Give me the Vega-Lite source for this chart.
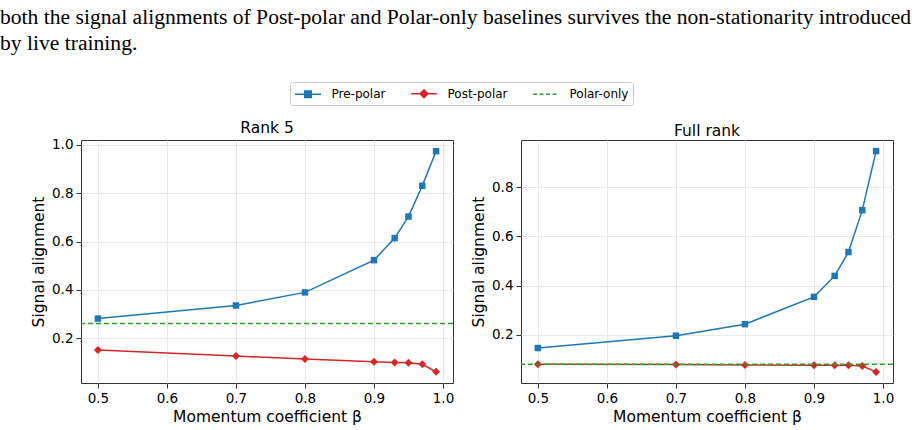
{
  "$schema": "https://vega.github.io/schema/vega-lite/v6.json",
  "padding": {"left": 0, "top": 6, "right": 0, "bottom": 2},
  "background": "white",
  "title": {
    "text": ["both the signal alignments of Post-polar and Polar-only baselines survives the non-stationarity introduced", "by live training."],
    "anchor": "start",
    "frame": "bounds",
    "font": "Liberation Serif",
    "fontSize": 21.6,
    "fontWeight": "normal",
    "lineHeight": 26,
    "color": "#000",
    "offset": 27,
    "dx": -31
  },
  "datasets": {
    "d": [
      {"panel": "Rank 5", "series": "Pre-polar", "beta": 0.5, "value": 0.282},
      {"panel": "Rank 5", "series": "Pre-polar", "beta": 0.7, "value": 0.336},
      {"panel": "Rank 5", "series": "Pre-polar", "beta": 0.8, "value": 0.390},
      {"panel": "Rank 5", "series": "Pre-polar", "beta": 0.9, "value": 0.523},
      {"panel": "Rank 5", "series": "Pre-polar", "beta": 0.93, "value": 0.614},
      {"panel": "Rank 5", "series": "Pre-polar", "beta": 0.95, "value": 0.703},
      {"panel": "Rank 5", "series": "Pre-polar", "beta": 0.97, "value": 0.830},
      {"panel": "Rank 5", "series": "Pre-polar", "beta": 0.99, "value": 0.973},
      {"panel": "Rank 5", "series": "Post-polar", "beta": 0.5, "value": 0.152},
      {"panel": "Rank 5", "series": "Post-polar", "beta": 0.7, "value": 0.127},
      {"panel": "Rank 5", "series": "Post-polar", "beta": 0.8, "value": 0.115},
      {"panel": "Rank 5", "series": "Post-polar", "beta": 0.9, "value": 0.104},
      {"panel": "Rank 5", "series": "Post-polar", "beta": 0.93, "value": 0.101},
      {"panel": "Rank 5", "series": "Post-polar", "beta": 0.95, "value": 0.100},
      {"panel": "Rank 5", "series": "Post-polar", "beta": 0.97, "value": 0.093},
      {"panel": "Rank 5", "series": "Post-polar", "beta": 0.99, "value": 0.062},
      {"panel": "Rank 5", "series": "Polar-only", "value": 0.262},
      {"panel": "Full rank", "series": "Pre-polar", "beta": 0.5, "value": 0.146},
      {"panel": "Full rank", "series": "Pre-polar", "beta": 0.7, "value": 0.196},
      {"panel": "Full rank", "series": "Pre-polar", "beta": 0.8, "value": 0.243},
      {"panel": "Full rank", "series": "Pre-polar", "beta": 0.9, "value": 0.354},
      {"panel": "Full rank", "series": "Pre-polar", "beta": 0.93, "value": 0.439},
      {"panel": "Full rank", "series": "Pre-polar", "beta": 0.95, "value": 0.536},
      {"panel": "Full rank", "series": "Pre-polar", "beta": 0.97, "value": 0.706},
      {"panel": "Full rank", "series": "Pre-polar", "beta": 0.99, "value": 0.946},
      {"panel": "Full rank", "series": "Post-polar", "beta": 0.5, "value": 0.080},
      {"panel": "Full rank", "series": "Post-polar", "beta": 0.7, "value": 0.079},
      {"panel": "Full rank", "series": "Post-polar", "beta": 0.8, "value": 0.077},
      {"panel": "Full rank", "series": "Post-polar", "beta": 0.9, "value": 0.076},
      {"panel": "Full rank", "series": "Post-polar", "beta": 0.93, "value": 0.076},
      {"panel": "Full rank", "series": "Post-polar", "beta": 0.95, "value": 0.076},
      {"panel": "Full rank", "series": "Post-polar", "beta": 0.97, "value": 0.073},
      {"panel": "Full rank", "series": "Post-polar", "beta": 0.99, "value": 0.049},
      {"panel": "Full rank", "series": "Polar-only", "value": 0.080}
    ]
  },
  "data": {"name": "d"},
  "spacing": 16,
  "hconcat": [
    {
      "width": 372,
      "height": 243,
      "title": {"text": "Rank 5", "frame": "group"},
      "transform": [{"filter": "datum.panel === 'Rank 5'"}],
      "layer": [
        {
          "transform": [{"filter": "datum.series !== 'Polar-only'"}],
          "mark": {"type": "line", "strokeWidth": 1.5},
          "encoding": {
            "x": {"field": "beta", "type": "quantitative", "scale": {"domain": [0.4755, 1.0145], "nice": false, "zero": false}, "axis": {"title": "Momentum coefficient β", "tickCount": 6, "format": ".1f"}},
            "y": {"field": "value", "type": "quantitative", "scale": {"domain": [0.016, 1.019], "nice": false, "zero": false}, "axis": {"title": "Signal alignment", "tickCount": 5, "format": ".1f"}},
            "color": {
              "field": "series", "type": "nominal",
              "scale": {"domain": ["Pre-polar", "Post-polar", "Polar-only"], "range": ["#1f77b4", "#d62728", "#2ca02c"]},
              "legend": {
                "orient": "none", "legendX": 209, "legendY": -58, "direction": "horizontal", "title": null,
                "labelFont": "DejaVu Sans", "labelFontSize": 12, "labelColor": "#000",
                "symbolSize": 169, "symbolStrokeWidth": 1.5, "symbolOffset": 6.5,
                "strokeColor": "#cccccc", "fillColor": "white", "cornerRadius": 3, "padding": 4,
                "columnPadding": 22, "labelOffset": 16,
                "encode": {
                  "symbols": {
                    "update": {
                      "shape": {"signal": "datum.value === 'Pre-polar' ? 'M-2,0H2M-0.5,-0.5H0.5V0.5H-0.5Z' : datum.value === 'Post-polar' ? 'M-2,0H2M0,-0.62L0.62,0L0,0.62L-0.62,0Z' : 'M-2,0H2'"},
                      "fill": {"signal": "datum.value === 'Pre-polar' ? '#1f77b4' : datum.value === 'Post-polar' ? '#d62728' : 'transparent'"},
                      "strokeDash": {"signal": "datum.value === 'Polar-only' ? [4, 2.5] : null"}
                    }
                  }
                }
              }
            }
          }
        },
        {
          "transform": [{"filter": "datum.series === 'Pre-polar'"}],
          "mark": {"type": "point", "shape": "square", "filled": true, "opacity": 1, "size": 42, "color": "#1f77b4"},
          "encoding": {
            "x": {"field": "beta", "type": "quantitative"},
            "y": {"field": "value", "type": "quantitative"}
          }
        },
        {
          "transform": [{"filter": "datum.series === 'Post-polar'"}],
          "mark": {"type": "point", "shape": "diamond", "filled": true, "opacity": 1, "size": 64, "color": "#d62728"},
          "encoding": {
            "x": {"field": "beta", "type": "quantitative"},
            "y": {"field": "value", "type": "quantitative"}
          }
        },
        {
          "transform": [{"filter": "datum.series === 'Polar-only'"}],
          "mark": {"type": "rule", "strokeDash": [5, 3], "strokeWidth": 1.5},
          "encoding": {
            "y": {"field": "value", "type": "quantitative"},
            "color": {"field": "series", "type": "nominal"}
          }
        }
      ]
    },
    {
      "width": 372,
      "height": 243,
      "title": {"text": "Full rank", "frame": "group"},
      "transform": [{"filter": "datum.panel === 'Full rank'"}],
      "layer": [
        {
          "transform": [{"filter": "datum.series !== 'Polar-only'"}],
          "mark": {"type": "line", "strokeWidth": 1.5},
          "encoding": {
            "x": {"field": "beta", "type": "quantitative", "scale": {"domain": [0.4755, 1.0145], "nice": false, "zero": false}, "axis": {"title": "Momentum coefficient β", "tickCount": 6, "format": ".1f"}},
            "y": {"field": "value", "type": "quantitative", "scale": {"domain": [0.004, 0.991], "nice": false, "zero": false}, "axis": {"title": "Signal alignment", "tickCount": 5, "format": ".1f"}},
            "color": {"field": "series", "type": "nominal"}
          }
        },
        {
          "transform": [{"filter": "datum.series === 'Pre-polar'"}],
          "mark": {"type": "point", "shape": "square", "filled": true, "opacity": 1, "size": 42, "color": "#1f77b4"},
          "encoding": {
            "x": {"field": "beta", "type": "quantitative"},
            "y": {"field": "value", "type": "quantitative"}
          }
        },
        {
          "transform": [{"filter": "datum.series === 'Post-polar'"}],
          "mark": {"type": "point", "shape": "diamond", "filled": true, "opacity": 1, "size": 64, "color": "#d62728"},
          "encoding": {
            "x": {"field": "beta", "type": "quantitative"},
            "y": {"field": "value", "type": "quantitative"}
          }
        },
        {
          "transform": [{"filter": "datum.series === 'Polar-only'"}],
          "mark": {"type": "rule", "strokeDash": [5, 3], "strokeWidth": 1.5},
          "encoding": {
            "y": {"field": "value", "type": "quantitative"},
            "color": {"field": "series", "type": "nominal"}
          }
        }
      ]
    }
  ],
  "resolve": {"scale": {"y": "independent"}},
  "config": {
    "view": {"stroke": "#333", "strokeWidth": 1},
    "font": "DejaVu Sans",
    "axis": {
      "labelFont": "DejaVu Sans", "labelFontSize": 13.5, "labelColor": "#000",
      "titleFont": "DejaVu Sans", "titleFontSize": 15.5, "titleFontWeight": "normal", "titleColor": "#000",
      "tickColor": "#333", "tickSize": 5, "domain": false,
      "gridColor": "#e8e8e8", "gridWidth": 1, "labelPadding": 3, "titlePadding": 5
    },
    "title": {"font": "DejaVu Sans", "fontSize": 15.5, "fontWeight": "normal", "color": "#000", "offset": 1}
  }
}
